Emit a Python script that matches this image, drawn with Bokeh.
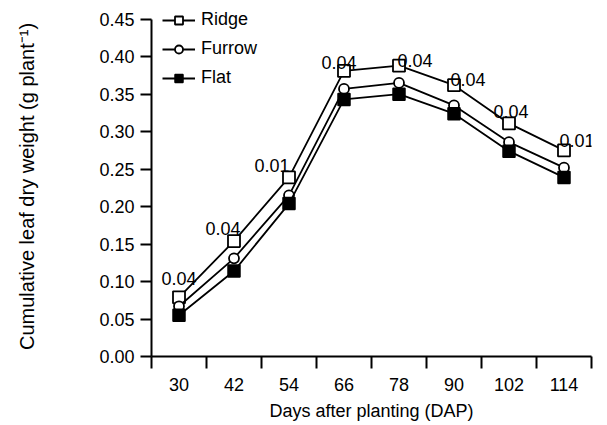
import math
from bokeh.plotting import figure
from bokeh.layouts import row
from bokeh.models import (FactorRange, Range1d, LinearAxis, FixedTicker, NumeralTickFormatter,
                          ColumnDataSource, Legend, LegendItem, Label)
from bokeh.core.properties import value
from bokeh.embed import file_html
from bokeh.resources import INLINE

days = ["30", "42", "54", "66", "78", "90", "102", "114"]
ridge = [0.079, 0.154, 0.239, 0.381, 0.388, 0.362, 0.311, 0.275]
furrow = [0.067, 0.131, 0.215, 0.357, 0.365, 0.335, 0.286, 0.252]
flat = [0.055, 0.114, 0.204, 0.343, 0.350, 0.324, 0.274, 0.239]
lsd = ["0.04", "0.04", "0.01", "0.04", "0.04", "0.04", "0.04", "0.01"]
y_ticks = [0.0, 0.05, 0.10, 0.15, 0.20, 0.25, 0.30, 0.35, 0.40, 0.45]
y_title = "Cumulative leaf dry weight (g plant\u207b\u00b9)"

# label placement (style): screen offsets relative to Ridge points
lab_dx = [0, -11, -17, -5, 16, 14, 2, 13]
lab_dy = [-19, -13, -12, -8, -5, -6, -12, -10]

FONT = "Liberation Sans"
TITLE_W = 40

# narrow strip holding the rotated y-axis title
t = figure(width=TITLE_W, height=425, output_backend="svg", toolbar_location=None,
           x_range=Range1d(0, TITLE_W), y_range=Range1d(0, 425),
           x_axis_location=None, y_axis_location=None, min_border=0)
t.grid.visible = False
t.outline_line_color = None
t.add_layout(Label(x=26, y=203, text=y_title, angle=math.pi / 2,
                   text_align="center", text_baseline="middle",
                   text_font=FONT, text_font_size="20px", text_color="black"))

p = figure(width=607 - TITLE_W, height=425, output_backend="svg", toolbar_location=None,
           x_range=FactorRange(factors=days, range_padding=0, factor_padding=0),
           y_range=Range1d(0, 0.475), x_axis_location=None,
           min_border_left=151 - TITLE_W, min_border_right=16, min_border_top=0,
           min_border_bottom=69)
p.grid.visible = False
p.outline_line_color = None
p.background_fill_color = "white"
p.border_fill_color = "white"

# y axis
ya = p.yaxis[0]
ya.ticker = FixedTicker(ticks=y_ticks, minor_ticks=[])
ya.bounds = (0, 0.45)
ya.formatter = NumeralTickFormatter(format="0.00")
ya.axis_line_width = 2
ya.axis_line_color = "black"
ya.major_tick_line_color = "black"
ya.major_tick_line_width = 2
ya.major_tick_out = 11
ya.major_tick_in = 0
ya.minor_tick_line_color = None
ya.major_label_text_font = FONT
ya.major_label_text_font_size = "18px"
ya.major_label_text_color = "black"
ya.major_label_standoff = 6

# x axis: labels at category centres (synthetic coords), ticks at boundaries
centres = [i + 0.5 for i in range(len(days))]
xa = LinearAxis(ticker=FixedTicker(ticks=centres, minor_ticks=list(range(len(days) + 1))))
xa.major_label_overrides = {c: d for c, d in zip(centres, days)}
xa.axis_line_width = 2
xa.axis_line_color = "black"
xa.major_tick_line_color = None
xa.major_tick_out = 0
xa.major_tick_in = 0
xa.minor_tick_line_color = "black"
xa.minor_tick_line_width = 2
xa.minor_tick_out = 12
xa.minor_tick_in = 0
xa.major_label_text_font = FONT
xa.major_label_text_font_size = "18px"
xa.major_label_text_color = "black"
xa.major_label_standoff = 9
xa.axis_label = "Days after planting (DAP)"
xa.axis_label_text_font = FONT
xa.axis_label_text_font_size = "18px"
xa.axis_label_text_color = "black"
xa.axis_label_text_font_style = "normal"
xa.axis_label_standoff = 7
p.add_layout(xa, "below")

src = ColumnDataSource(dict(day=days, ridge=ridge, furrow=furrow, flat=flat,
                            lsd=lsd, dx=lab_dx, dy=lab_dy))

l1 = p.line("day", "ridge", source=src, line_color="black", line_width=1.8)
s1 = p.scatter("day", "ridge", source=src, marker="square", size=12,
               fill_color="white", line_color="black", line_width=1.8)
l2 = p.line("day", "furrow", source=src, line_color="black", line_width=1.8)
s2 = p.scatter("day", "furrow", source=src, marker="circle", size=10,
               fill_color="white", line_color="black", line_width=1.8)
l3 = p.line("day", "flat", source=src, line_color="black", line_width=1.8)
s3 = p.scatter("day", "flat", source=src, marker="square", size=12,
               fill_color="black", line_color="black", line_width=1.5)

p.text("day", "ridge", text="lsd", source=src, x_offset="dx", y_offset="dy",
       text_align="center", text_baseline="alphabetic",
       text_font=value(FONT), text_font_size="18px", text_color="black")

legend = Legend(items=[LegendItem(label="Ridge", renderers=[l1, s1]),
                       LegendItem(label="Furrow", renderers=[l2, s2]),
                       LegendItem(label="Flat", renderers=[l3, s3])],
                location=(11, 268), border_line_color=None, background_fill_alpha=0,
                padding=0, margin=0, spacing=8, label_height=20, glyph_height=20,
                glyph_width=33, label_standoff=6,
                label_text_font=FONT, label_text_font_size="18px", label_text_color="black")
p.add_layout(legend, "center")

layout = row(t, p, spacing=0)
open("out.html", "w").write(file_html(layout, INLINE))
